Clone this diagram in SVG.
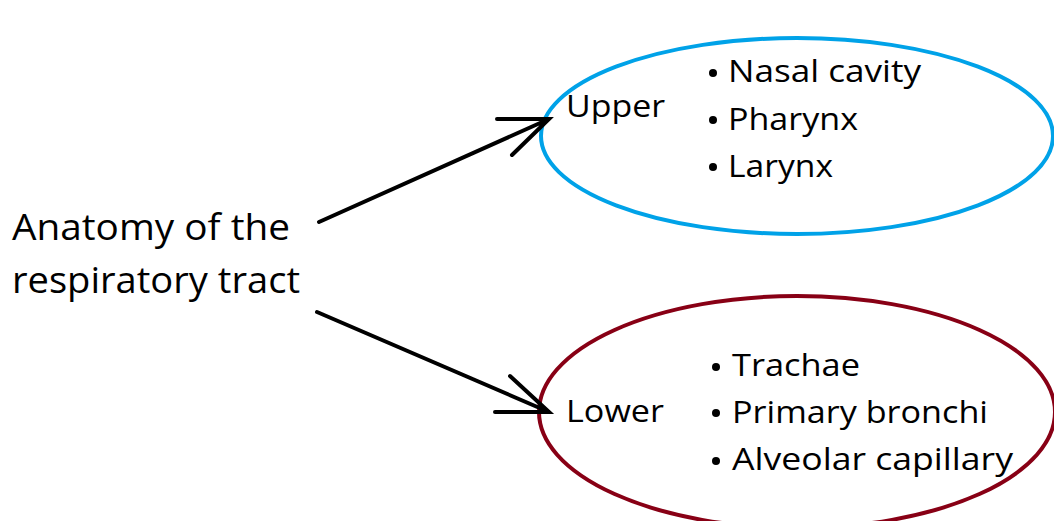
<svg xmlns="http://www.w3.org/2000/svg" width="1054" height="521" viewBox="0 0 1054 521">
<style>
.t{font-family:"Open Sans","Noto Sans",sans-serif;fill:#000}
.big{font-size:36px}
.mid{font-size:31px}
.item{font-size:31px}
.conn{stroke:#000;stroke-width:4;fill:none;stroke-linecap:round}
</style>
<rect width="1054" height="521" fill="#fff"/>
<g id="root">
<text class="t big" x="12" y="240" textLength="278" lengthAdjust="spacingAndGlyphs">Anatomy of the</text>
<text class="t big" x="12" y="293" textLength="288" lengthAdjust="spacingAndGlyphs">respiratory tract</text>
</g>
<g id="upper">
<ellipse cx="797" cy="136" rx="256" ry="98" fill="none" stroke="#00a2e8" stroke-width="4"/>
<text class="t mid" x="566" y="117" textLength="99" lengthAdjust="spacingAndGlyphs">Upper</text>
<circle cx="713" cy="73" r="4"/>
<text class="t item" x="728" y="82" textLength="193" lengthAdjust="spacingAndGlyphs">Nasal cavity</text>
<circle cx="713" cy="120" r="4"/>
<text class="t item" x="728" y="130" textLength="130" lengthAdjust="spacingAndGlyphs">Pharynx</text>
<circle cx="713" cy="167" r="4"/>
<text class="t item" x="728" y="177" textLength="105" lengthAdjust="spacingAndGlyphs">Larynx</text>
</g>
<g id="lower">
<ellipse cx="797" cy="412" rx="258" ry="116" fill="none" stroke="#880015" stroke-width="4"/>
<text class="t mid" x="566" y="422" textLength="98" lengthAdjust="spacingAndGlyphs">Lower</text>
<circle cx="716" cy="367" r="4"/>
<text class="t item" x="732" y="376" textLength="128" lengthAdjust="spacingAndGlyphs">Trachae</text>
<circle cx="716" cy="413" r="4"/>
<text class="t item" x="732" y="423" textLength="256" lengthAdjust="spacingAndGlyphs">Primary bronchi</text>
<circle cx="716" cy="461" r="4"/>
<text class="t item" x="732" y="470" textLength="281" lengthAdjust="spacingAndGlyphs">Alveolar capillary</text>
</g>
<g id="connectors">
<path class="conn" d="M319 222 L549 119 M497 119 L549 119 L512 155"/>
<path class="conn" d="M317 312 L549 412 M495 412 L549 412 L510 376"/>
</g>
</svg>
